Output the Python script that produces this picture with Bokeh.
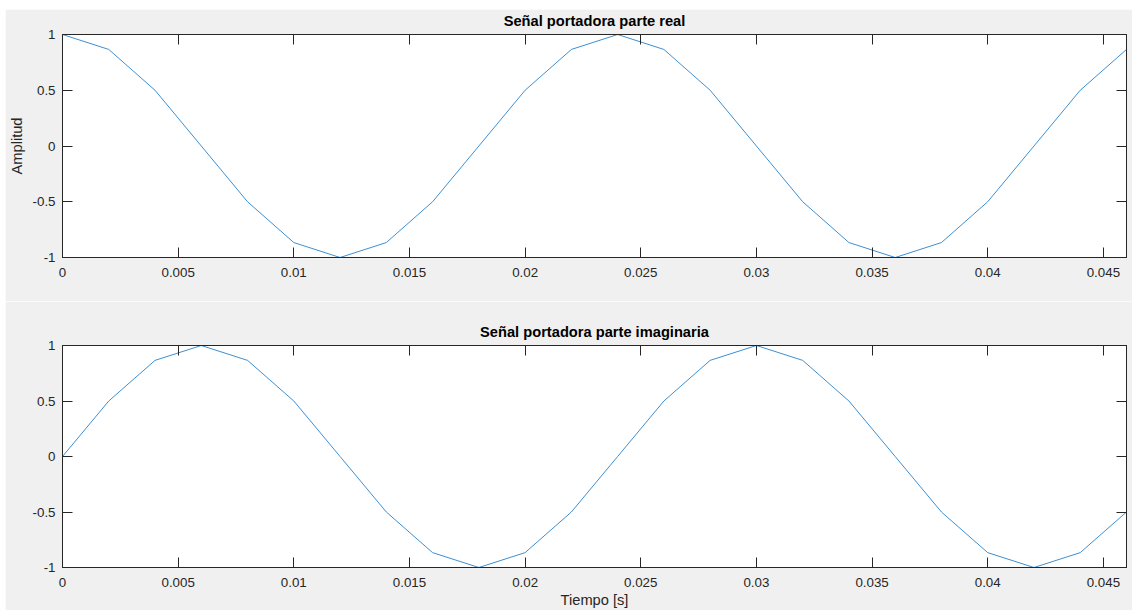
from bokeh.plotting import figure
from bokeh.models import Range1d, LinearAxis, FixedTicker, CustomLabelingPolicy
from bokeh.layouts import column
from bokeh.embed import file_html
from bokeh.resources import INLINE

# Sampled carrier (2 ms step)
tiempo = [0.000, 0.002, 0.004, 0.006, 0.008, 0.010, 0.012, 0.014, 0.016, 0.018,
          0.020, 0.022, 0.024, 0.026, 0.028, 0.030, 0.032, 0.034, 0.036, 0.038,
          0.040, 0.042, 0.044, 0.046]
parte_real = [1.0, 0.866, 0.5, 0.0, -0.5, -0.866, -1.0, -0.866, -0.5, 0.0,
              0.5, 0.866, 1.0, 0.866, 0.5, 0.0, -0.5, -0.866, -1.0, -0.866,
              -0.5, 0.0, 0.5, 0.866]
parte_imag = [0.0, 0.5, 0.866, 1.0, 0.866, 0.5, 0.0, -0.5, -0.866, -1.0,
              -0.866, -0.5, 0.0, 0.5, 0.866, 1.0, 0.866, 0.5, 0.0, -0.5,
              -0.866, -1.0, -0.866, -0.5]

x_ticks = [0.0, 0.005, 0.01, 0.015, 0.02, 0.025, 0.03, 0.035, 0.04, 0.045]
x_tick_labels = ["0", "0.005", "0.01", "0.015", "0.02", "0.025", "0.03",
                 "0.035", "0.04", "0.045"]
y_ticks = [-1.0, -0.5, 0.0, 0.5, 1.0]
y_tick_labels = ["-1", "-0.5", "0", "0.5", "1"]

FONT = "Liberation Sans"
AX = "#262626"
BG = "#f0f0f0"
LINE = "#3d8fd2"


def style_axis(ax, ticks, labels=None):
    ax.ticker = FixedTicker(ticks=ticks)
    ax.minor_tick_line_color = None
    ax.major_tick_in = 10
    ax.major_tick_out = 0
    ax.major_tick_line_color = AX
    ax.axis_line_color = AX
    ax.major_label_text_font = FONT
    ax.major_label_text_color = AX
    if labels is not None:
        ax.major_label_overrides = dict(zip(ticks, labels))
        ax.major_label_text_font_size = "10pt"
    else:
        # box-side axis: ticks only, every label filtered out
        ax.major_label_policy = CustomLabelingPolicy(
            code="for (const i of Array.from(indices)) indices.unset(i)")
        ax.major_label_text_font_size = "1px"
        ax.major_label_standoff = 0


def panel(title, y, height, top, bottom, margin, ylabel=None, xlabel=None):
    p = figure(width=1127, height=height, output_backend="svg",
               toolbar_location=None, x_range=Range1d(0, 0.046),
               y_range=Range1d(-1, 1), min_border_left=56,
               min_border_right=6, min_border_top=top,
               min_border_bottom=bottom, margin=margin)
    p.line(tiempo, y, line_color=LINE, line_width=1)
    p.border_fill_color = BG
    p.background_fill_color = "white"
    p.outline_line_color = AX
    p.outline_line_width = 1
    p.grid.visible = False

    p.title.text = title
    p.title.align = "center"
    p.title.text_font = FONT
    p.title.text_font_style = "bold"
    p.title.text_font_size = "11pt"
    p.title.text_color = "black"
    p.title.standoff = 3

    xax = p.xaxis[0]
    yax = p.yaxis[0]
    style_axis(xax, x_ticks, x_tick_labels)
    xax.major_label_standoff = 10
    style_axis(yax, y_ticks, y_tick_labels)
    yax.major_label_standoff = 7

    top_ax = LinearAxis()
    style_axis(top_ax, x_ticks)
    p.add_layout(top_ax, "above")
    right_ax = LinearAxis()
    style_axis(right_ax, y_ticks)
    p.add_layout(right_ax, "right")

    for ax, lab, gap in ((yax, ylabel, 5), (xax, xlabel, 2)):
        if lab:
            ax.axis_label = lab
            ax.axis_label_text_font = FONT
            ax.axis_label_text_font_size = "11pt"
            ax.axis_label_text_font_style = "normal"
            ax.axis_label_text_color = AX
            ax.axis_label_standoff = gap
    return p


p1 = panel("Señal portadora parte real", parte_real, 292, 25, 44,
           (9, 0, 0, 5), ylabel="Amplitud")
p2 = panel("Señal portadora parte imaginaria", parte_imag, 309, 44, 41,
           (0, 0, 0, 5), xlabel="Tiempo [s]")

p = column(p1, p2, spacing=0)
open("out.html", "w").write(file_html(p, INLINE))
